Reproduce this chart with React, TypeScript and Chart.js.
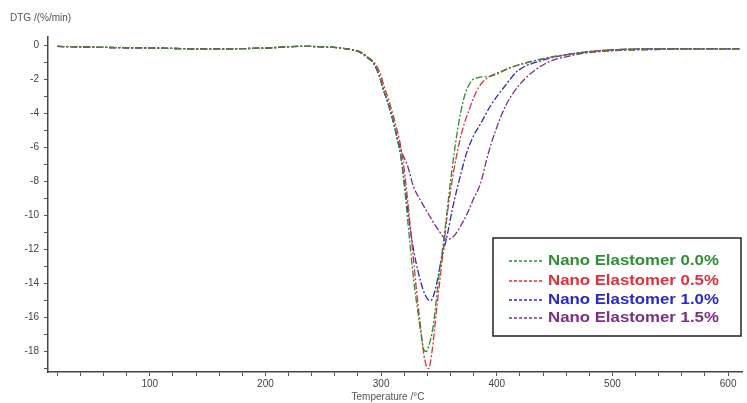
import React, { useEffect, useRef } from "react";
import { Chart, registerables } from "chart.js";

Chart.register(...registerables);

const seriesNames = [
  "Nano Elastomer 0.0%",
  "Nano Elastomer 0.5%",
  "Nano Elastomer 1.0%",
  "Nano Elastomer 1.5%",
];
const seriesColors = ["#2f8f34", "#e0303c", "#2a2ac4", "#7d2e86"];

const tempGreen = [20, 50, 100, 150, 200, 230, 250, 265, 275, 282, 288, 293, 298, 302, 306, 311, 314, 317, 320, 324, 328, 332, 335, 337, 339, 341, 345, 350, 354, 360, 366, 372, 378, 383, 395, 412, 438, 464, 500, 533, 570, 610];
const dtgGreen = [-0.05, -0.1, -0.15, -0.2, -0.15, -0.05, -0.08, -0.15, -0.25, -0.4, -0.7, -1.0, -1.7, -2.6, -3.4, -4.6, -5.5, -6.5, -8.2, -11, -13.7, -15.8, -17.2, -17.9, -18.0, -17.7, -16.5, -13.5, -11.5, -8, -5, -3, -2.1, -1.9, -1.8, -1.3, -0.8, -0.5, -0.3, -0.2, -0.2, -0.2];

const tempRed = [20, 50, 100, 150, 200, 230, 250, 265, 275, 283, 289, 294, 299, 303, 307, 312, 316, 319, 322, 326, 330, 334, 337, 339, 341, 344, 348, 353, 358, 363, 369, 376, 384, 392, 401, 421, 455, 490, 530, 570, 610];
const dtgRed = [-0.05, -0.1, -0.15, -0.2, -0.15, -0.05, -0.08, -0.15, -0.25, -0.4, -0.7, -1.0, -1.6, -2.5, -3.3, -4.5, -5.6, -6.8, -8.5, -11.2, -14, -16.5, -18.2, -18.8, -19.0, -18, -15.5, -12.5, -9.5, -7.3, -5.3, -3.8, -2.5, -1.9, -1.6, -1.1, -0.6, -0.3, -0.2, -0.2, -0.2];

const tempBlue = [20, 50, 100, 150, 200, 230, 250, 265, 275, 282, 288, 293, 298, 302, 306, 311, 314, 317, 320, 324, 328, 332, 336, 340, 343, 347, 352, 357, 362, 368, 374, 380, 386, 395, 408, 418, 438, 464, 490, 530, 570, 610];
const dtgBlue = [-0.05, -0.1, -0.15, -0.2, -0.15, -0.05, -0.08, -0.15, -0.25, -0.4, -0.7, -1.0, -1.7, -2.6, -3.4, -4.6, -5.5, -6.5, -8.0, -10.2, -12, -13.3, -14.3, -14.9, -15.0, -14.3, -12.6, -11.2, -9.5, -7.8, -6.3, -5.3, -4.6, -3.5, -2.3, -1.5, -0.9, -0.5, -0.3, -0.2, -0.2, -0.2];

const tempPurple = [20, 50, 100, 150, 200, 230, 250, 265, 275, 282, 288, 293, 298, 302, 306, 311, 314, 318, 323, 328, 334, 340, 349, 357, 363, 368, 375, 380, 386, 392, 399, 408, 421, 441, 464, 490, 530, 570, 610];
const dtgPurple = [-0.05, -0.1, -0.15, -0.2, -0.15, -0.05, -0.08, -0.15, -0.25, -0.4, -0.7, -1.0, -1.7, -2.6, -3.4, -4.6, -5.4, -6.3, -7.1, -8.3, -9.1, -9.8, -10.8, -11.4, -11.2, -10.7, -9.8, -9.0, -8.1, -6.5, -5.0, -3.5, -2.2, -1.1, -0.6, -0.35, -0.25, -0.2, -0.2];

const xTickValues = [20, 40, 60, 80, 100, 120, 140, 160, 180, 200, 220, 240, 260, 280, 300, 320, 340, 360, 380, 400, 420, 440, 460, 480, 500, 520, 540, 560, 580, 600];
const yTickValues = [0, -1, -2, -3, -4, -5, -6, -7, -8, -9, -10, -11, -12, -13, -14, -15, -16, -17, -18, -19];

const yAxisTitle = "DTG /(%/min)";
const xAxisTitle = "Temperature /°C";

const FONT = "'Liberation Sans', Arial, sans-serif";

function pairs(t: number[], v: number[]) {
  return t.map((x, i) => ({ x, y: v[i] }));
}

const overlayPlugin = {
  id: "overlay",
  afterDraw(chart: any) {
    const ctx = chart.ctx;
    const area = chart.chartArea;
    ctx.save();
    // axis titles
    ctx.fillStyle = "#555";
    ctx.font = `10px ${FONT}`;
    ctx.textBaseline = "middle";
    ctx.textAlign = "left";
    ctx.fillText(yAxisTitle, 10, 18);
    ctx.textAlign = "center";
    ctx.fillText(xAxisTitle, 388, 397);

    // legend box
    const bx = 493, by = 238, bw = 248, bh = 98;
    ctx.strokeStyle = "#222";
    ctx.lineWidth = 1.5;
    ctx.strokeRect(bx, by, bw, bh);
    const rows = [261, 281, 300, 318];
    rows.forEach((ry, i) => {
      ctx.strokeStyle = seriesColors[i];
      ctx.lineWidth = 1.3;
      ctx.setLineDash([3, 2]);
      ctx.beginPath();
      ctx.moveTo(509, ry);
      ctx.lineTo(542, ry);
      ctx.stroke();
      ctx.setLineDash([]);
      ctx.save();
      ctx.translate(548, ry);
      ctx.scale(1.2, 1);
      ctx.fillStyle = seriesColors[i];
      ctx.font = `bold 14px ${FONT}`;
      ctx.textAlign = "left";
      ctx.textBaseline = "middle";
      ctx.fillText(seriesNames[i], 0, 0);
      ctx.restore();
    });
    ctx.restore();
  },
};

export default function App() {
  const ref = useRef<HTMLCanvasElement | null>(null);
  useEffect(() => {
    if (!ref.current) return;
    const data = [
      pairs(tempGreen, dtgGreen),
      pairs(tempRed, dtgRed),
      pairs(tempBlue, dtgBlue),
      pairs(tempPurple, dtgPurple),
    ];
    const chart = new Chart(ref.current, {
      type: "line",
      data: {
        datasets: data.map((d, i) => ({
          label: seriesNames[i],
          data: d,
          borderColor: seriesColors[i],
          borderWidth: 1.3,
          borderDash: [7, 2, 2, 2],
          pointRadius: 0,
          fill: false,
          cubicInterpolationMode: "monotone" as const,
        })),
      },
      options: {
        animation: false,
        responsive: false,
        maintainAspectRatio: false,
        layout: { padding: { top: 37, right: 5, left: 0, bottom: 0 } },
        plugins: {
          legend: { display: false },
          title: { display: false },
          tooltip: { enabled: false },
        },
        scales: {
          x: {
            type: "linear",
            min: 12,
            max: 612,
            afterBuildTicks: (s: any) => {
              s.ticks = xTickValues.map((v) => ({ value: v }));
            },
            afterFit: (s: any) => {
              s.height = 31;
            },
            ticks: {
              autoSkip: false,
              maxRotation: 0,
              padding: 2,
              color: "#444",
              font: { size: 10, family: FONT },
              callback: (v: any) => (Number(v) % 100 === 0 ? String(v) : ""),
            },
            grid: { drawOnChartArea: false, drawTicks: true, tickLength: 4, color: "#555" },
            border: { display: true, color: "#444", width: 1.5 },
          },
          y: {
            type: "linear",
            min: -19.2,
            max: 0.5,
            afterBuildTicks: (s: any) => {
              s.ticks = yTickValues.map((v) => ({ value: v }));
            },
            afterFit: (s: any) => {
              s.width = 48;
            },
            ticks: {
              autoSkip: false,
              padding: 5,
              color: "#444",
              font: { size: 10, family: FONT },
              callback: (v: any) => (Number(v) % 2 === 0 ? String(v) : ""),
            },
            grid: { drawOnChartArea: false, drawTicks: true, tickLength: 4, color: "#555" },
            border: { display: true, color: "#444", width: 1.5 },
          },
        },
      },
      plugins: [overlayPlugin],
    });
    return () => chart.destroy();
  }, []);
  return (
    <div style={{ position: "fixed", left: 0, top: 0, width: 747, height: 403, background: "#fff" }}>
      <canvas ref={ref} width={747} height={403} style={{ width: 747, height: 403 }} />
    </div>
  );
}
